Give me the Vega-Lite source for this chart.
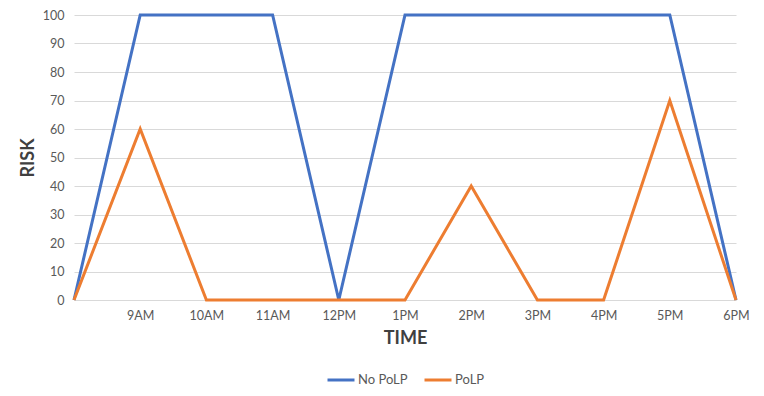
{
  "$schema": "https://vega.github.io/schema/vega-lite/v6.json",
  "width": 662,
  "height": 285,
  "autosize": {"type": "none"},
  "padding": {"left": 74, "top": 15, "right": 28, "bottom": 96},
  "background": "white",
  "config": {
    "font": "Lato",
    "view": {"stroke": null},
    "axis": {"labelFont": "Lato", "titleFont": "Lato"},
    "legend": {"layout": {"bottom": {"anchor": "middle"}}}
  },
  "data": {
    "values": [
      {"time": " ", "series": "No PoLP", "risk": 0},
      {"time": "9AM", "series": "No PoLP", "risk": 100},
      {"time": "10AM", "series": "No PoLP", "risk": 100},
      {"time": "11AM", "series": "No PoLP", "risk": 100},
      {"time": "12PM", "series": "No PoLP", "risk": 0},
      {"time": "1PM", "series": "No PoLP", "risk": 100},
      {"time": "2PM", "series": "No PoLP", "risk": 100},
      {"time": "3PM", "series": "No PoLP", "risk": 100},
      {"time": "4PM", "series": "No PoLP", "risk": 100},
      {"time": "5PM", "series": "No PoLP", "risk": 100},
      {"time": "6PM", "series": "No PoLP", "risk": 0},
      {"time": " ", "series": "PoLP", "risk": 0},
      {"time": "9AM", "series": "PoLP", "risk": 60},
      {"time": "10AM", "series": "PoLP", "risk": 0},
      {"time": "11AM", "series": "PoLP", "risk": 0},
      {"time": "12PM", "series": "PoLP", "risk": 0},
      {"time": "1PM", "series": "PoLP", "risk": 0},
      {"time": "2PM", "series": "PoLP", "risk": 40},
      {"time": "3PM", "series": "PoLP", "risk": 0},
      {"time": "4PM", "series": "PoLP", "risk": 0},
      {"time": "5PM", "series": "PoLP", "risk": 70},
      {"time": "6PM", "series": "PoLP", "risk": 0}
    ]
  },
  "mark": {"type": "line", "strokeWidth": 3, "strokeJoin": "miter"},
  "encoding": {
    "x": {
      "field": "time",
      "type": "ordinal",
      "sort": null,
      "scale": {"type": "point", "padding": 0},
      "axis": {
        "title": "TIME",
        "titleFontSize": 18,
        "titleFontWeight": "bold",
        "titleColor": "#404040",
        "titlePadding": 8,
        "labelAngle": 0,
        "labelFontSize": 12.5,
        "labelColor": "#595959",
        "labelPadding": 9,
        "ticks": false,
        "domainColor": "#d9d9d9",
        "domainWidth": 1,
        "grid": false
      }
    },
    "y": {
      "field": "risk",
      "type": "quantitative",
      "scale": {"domain": [0, 100], "nice": false},
      "axis": {
        "title": "RISK",
        "titleFontSize": 18,
        "titleFontWeight": "bold",
        "titleColor": "#404040",
        "titlePadding": 5,
        "values": [0, 10, 20, 30, 40, 50, 60, 70, 80, 90, 100],
        "labelFontSize": 12.5,
        "labelColor": "#595959",
        "labelPadding": 10,
        "ticks": false,
        "domain": false,
        "gridColor": "#d9d9d9",
        "gridWidth": 1
      }
    },
    "color": {
      "field": "series",
      "type": "nominal",
      "sort": ["No PoLP", "PoLP"],
      "scale": {"domain": ["No PoLP", "PoLP"], "range": ["#4472C4", "#ED7D31"]},
      "legend": {
        "title": null,
        "orient": "bottom",
        "direction": "horizontal",
        "symbolType": "stroke",
        "symbolStrokeWidth": 3,
        "symbolSize": 729,
        "labelOffset": 2,
        "labelFontSize": 13,
        "labelColor": "#595959",
        "columnPadding": 10,
        "offset": 17
      }
    }
  }
}
